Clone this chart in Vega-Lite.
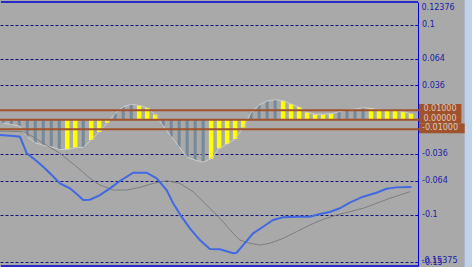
{
  "$schema": "https://vega.github.io/schema/vega-lite/v6.json",
  "width": 418,
  "height": 264,
  "autosize": {"type": "none"},
  "padding": {"left": 0, "top": 2, "right": 54, "bottom": 1},
  "background": "#a9a9a9",
  "config": {"view": {"stroke": null, "fill": "#a9a9a9"}},
  "datasets": {
    "bars": [
      {"k":0,"v":-0.0035,"c":"g"},{"k":1,"v":-0.0050,"c":"g"},{"k":2,"v":-0.0066,"c":"g"},{"k":3,"v":-0.0179,"c":"g"},
      {"k":4,"v":-0.0242,"c":"g"},{"k":5,"v":-0.0269,"c":"g"},{"k":6,"v":-0.0284,"c":"g"},{"k":7,"v":-0.0313,"c":"g"},
      {"k":8,"v":-0.0311,"c":"y"},{"k":9,"v":-0.0294,"c":"y"},{"k":10,"v":-0.0290,"c":"g"},{"k":11,"v":-0.0213,"c":"y"},
      {"k":12,"v":-0.0129,"c":"y"},{"k":13,"v":-0.0032,"c":"y"},{"k":14,"v":0.0067,"c":"g"},{"k":15,"v":0.0134,"c":"g"},
      {"k":16,"v":0.0162,"c":"g"},{"k":17,"v":0.0149,"c":"y"},{"k":18,"v":0.0125,"c":"y"},{"k":19,"v":0.0055,"c":"y"},
      {"k":20,"v":-0.0066,"c":"g"},{"k":21,"v":-0.0179,"c":"g"},{"k":22,"v":-0.0284,"c":"g"},{"k":23,"v":-0.0395,"c":"g"},
      {"k":24,"v":-0.0424,"c":"g"},{"k":25,"v":-0.0445,"c":"g"},{"k":26,"v":-0.0410,"c":"y"},{"k":27,"v":-0.0301,"c":"y"},
      {"k":28,"v":-0.0255,"c":"y"},{"k":29,"v":-0.0203,"c":"y"},{"k":30,"v":-0.0082,"c":"y"},{"k":31,"v":0.0078,"c":"g"},
      {"k":32,"v":0.0155,"c":"g"},{"k":33,"v":0.0197,"c":"g"},{"k":34,"v":0.0210,"c":"g"},{"k":35,"v":0.0200,"c":"y"},
      {"k":36,"v":0.0165,"c":"y"},{"k":37,"v":0.0134,"c":"y"},{"k":38,"v":0.0078,"c":"y"},{"k":39,"v":0.0057,"c":"y"},
      {"k":40,"v":0.0057,"c":"y"},{"k":41,"v":0.0063,"c":"y"},{"k":42,"v":0.0084,"c":"g"},{"k":43,"v":0.0102,"c":"g"},
      {"k":44,"v":0.0112,"c":"g"},{"k":45,"v":0.0126,"c":"g"},{"k":46,"v":0.0120,"c":"y"},{"k":47,"v":0.0105,"c":"y"},
      {"k":48,"v":0.0102,"c":"y"},{"k":49,"v":0.0099,"c":"y"},{"k":50,"v":0.0084,"c":"y"},{"k":51,"v":0.0063,"c":"y"}
    ],
    "blue": [
      {"t":-0.41,"v":-0.0161},{"t":1.25,"v":-0.0171},{"t":2.09,"v":-0.0179},{"t":2.93,"v":-0.0353},{"t":3.75,"v":-0.0406},
      {"t":5.0,"v":-0.0494},{"t":5.84,"v":-0.0563},{"t":7.09,"v":-0.0669},{"t":8.34,"v":-0.0721},{"t":9.18,"v":-0.0781},
      {"t":10.0,"v":-0.0844},{"t":10.84,"v":-0.0841},{"t":12.09,"v":-0.0792},{"t":13.34,"v":-0.0721},{"t":14.59,"v":-0.0644},
      {"t":16.25,"v":-0.0557},{"t":17.93,"v":-0.0557},{"t":19.18,"v":-0.0616},{"t":20.43,"v":-0.0739},{"t":21.25,"v":-0.0879},
      {"t":22.3,"v":-0.1019},{"t":23.34,"v":-0.1142},{"t":24.59,"v":-0.1265},{"t":25.84,"v":-0.1359},{"t":27.09,"v":-0.1362},
      {"t":28.75,"v":-0.1404},{"t":29.18,"v":-0.1398},{"t":30.0,"v":-0.1317},{"t":31.25,"v":-0.1194},{"t":32.5,"v":-0.1125},
      {"t":33.75,"v":-0.1054},{"t":35.0,"v":-0.1026},{"t":36.68,"v":-0.1020},{"t":38.34,"v":-0.1020},{"t":39.59,"v":-0.0991},
      {"t":40.84,"v":-0.0970},{"t":42.09,"v":-0.0931},{"t":43.34,"v":-0.0872},{"t":45.0,"v":-0.0809},{"t":46.68,"v":-0.0767},
      {"t":47.93,"v":-0.0725},{"t":49.18,"v":-0.0711},{"t":51.05,"v":-0.0707}
    ],
    "gray": [
      {"t":-0.41,"v":-0.0119},{"t":2.5,"v":-0.0126},{"t":3.75,"v":-0.0179},{"t":5.0,"v":-0.0248},{"t":7.09,"v":-0.0353},
      {"t":9.18,"v":-0.0494},{"t":10.84,"v":-0.0616},{"t":12.09,"v":-0.0686},{"t":13.75,"v":-0.0739},{"t":15.43,"v":-0.0739},
      {"t":17.09,"v":-0.0711},{"t":18.75,"v":-0.0669},{"t":20.43,"v":-0.0641},{"t":22.09,"v":-0.0669},{"t":23.75,"v":-0.0757},
      {"t":25.43,"v":-0.0897},{"t":27.09,"v":-0.1036},{"t":28.75,"v":-0.1194},{"t":29.59,"v":-0.1265},{"t":30.84,"v":-0.1299},
      {"t":32.09,"v":-0.1317},{"t":33.34,"v":-0.1299},{"t":35.0,"v":-0.1247},{"t":36.68,"v":-0.1177},{"t":38.34,"v":-0.1107},
      {"t":40.0,"v":-0.1047},{"t":41.68,"v":-0.1002},{"t":43.34,"v":-0.0967},{"t":45.0,"v":-0.0931},{"t":46.68,"v":-0.0879},
      {"t":48.34,"v":-0.0826},{"t":49.59,"v":-0.0792},{"t":50.84,"v":-0.0757}
    ],
    "levels": [
      {"level":0.01,"label":"0.01000"},{"level":0,"label":"0.00000"},{"level":-0.01,"label":"-0.01000"}
    ],
    "ends": [
      {"level":0.12376,"label":"0.12376","pos":"top"},{"level":-0.15375,"label":"-0.15375","pos":"bottom"}
    ],
    "one": [{}]
  },
  "layer": [
    {
      "data": {"name": "one"},
      "mark": {"type": "rect", "color": "#bcd3ea"},
      "encoding": {
        "x": {"datum": 57.71, "type": "quantitative", "scale": {"domain": [-0.4125, 51.875], "nice": false, "zero": false, "padding": 0}, "axis": null},
        "x2": {"datum": 60},
        "y": {"datum": 0.14, "type": "quantitative",
          "scale": {"domain": [-0.15375, 0.12376], "nice": false, "zero": false},
          "axis": {
            "orient": "right",
            "values": [0.1, 0.064, 0.036, -0.036, -0.064, -0.1, -0.15],
            "labelExpr": "datum.value",
            "title": null,
            "domainColor": "#0000d0",
            "domainWidth": 1,
            "tickColor": "#0000d0",
            "tickSize": -3,
            "labelPadding": 6.5,
            "labelColor": "#1c1ca8",
            "labelFont": "DejaVu Sans",
            "labelFontSize": 8,
            "labelAlign": "left",
            "labelBaseline": "middle",
            "labelOverlap": false,
            "labelFlush": false,
            "grid": true,
            "gridColor": "#14147a",
            "gridDash": [3, 2],
            "gridWidth": 1,
            "gridOpacity": 1
          }
        },
        "y2": {"datum": -0.17}
      }
    },
    {
      "data": {"name": "bars"},
      "transform": [{"filter": "datum.c === 'g'"}],
      "mark": {"type": "bar", "color": "#778899", "size": 3},
      "encoding": {
        "x": {"field": "k", "type": "quantitative"},
        "y": {"field": "v", "type": "quantitative"},
        "y2": {"datum": 0}
      }
    },
    {
      "data": {"name": "bars"},
      "transform": [{"filter": "datum.c === 'y'"}],
      "mark": {"type": "bar", "color": "#ffff00", "size": 4.5},
      "encoding": {
        "x": {"field": "k", "type": "quantitative"},
        "y": {"field": "v", "type": "quantitative"},
        "y2": {"datum": 0}
      }
    },
    {
      "data": {"name": "bars"},
      "mark": {"type": "line", "color": "#cdcdcd", "strokeWidth": 1},
      "encoding": {
        "x": {"field": "k", "type": "quantitative"},
        "y": {"field": "v", "type": "quantitative"}
      }
    },
    {
      "data": {"name": "levels"},
      "mark": {"type": "rule", "color": "#a0522d", "strokeWidth": 2},
      "encoding": {
        "x": {"datum": -0.4125, "type": "quantitative"},
        "x2": {"datum": 52.1},
        "y": {"field": "level", "type": "quantitative"}
      }
    },
    {
      "data": {"name": "gray"},
      "mark": {"type": "line", "color": "#7e7e7e", "strokeWidth": 1},
      "encoding": {
        "x": {"field": "t", "type": "quantitative"},
        "y": {"field": "v", "type": "quantitative"}
      }
    },
    {
      "data": {"name": "blue"},
      "mark": {"type": "line", "color": "#4169e1", "strokeWidth": 2},
      "encoding": {
        "x": {"field": "t", "type": "quantitative"},
        "y": {"field": "v", "type": "quantitative"}
      }
    },
    {
      "data": {"name": "one"},
      "mark": {"type": "rect", "color": "#a0522d"},
      "encoding": {
        "x": {"datum": 52.0, "type": "quantitative"},
        "x2": {"datum": 57.3},
        "y": {"datum": 0.0165, "type": "quantitative"},
        "y2": {"datum": -0.004}
      }
    },
    {
      "data": {"name": "one"},
      "mark": {"type": "rect", "color": "#a0522d"},
      "encoding": {
        "x": {"datum": 52.0, "type": "quantitative"},
        "x2": {"datum": 57.71},
        "y": {"datum": -0.004, "type": "quantitative"},
        "y2": {"datum": -0.0143}
      }
    },
    {
      "data": {"name": "levels"},
      "mark": {"type": "text", "color": "#dcc8bc", "font": "DejaVu Sans", "fontSize": 8, "align": "center", "baseline": "middle", "dx": 22, "dy": -1},
      "encoding": {
        "x": {"datum": 51.875, "type": "quantitative"},
        "y": {"field": "level", "type": "quantitative"},
        "text": {"field": "label"}
      }
    },
    {
      "data": {"name": "ends"},
      "transform": [{"filter": "datum.pos === 'top'"}],
      "mark": {"type": "text", "color": "#1c1ca8", "font": "DejaVu Sans", "fontSize": 8, "align": "left", "baseline": "top", "dx": 3.5, "dy": 2},
      "encoding": {
        "x": {"datum": 51.875, "type": "quantitative"},
        "y": {"field": "level", "type": "quantitative"},
        "text": {"field": "label"}
      }
    },
    {
      "data": {"name": "ends"},
      "transform": [{"filter": "datum.pos === 'bottom'"}],
      "mark": {"type": "text", "color": "#1c1ca8", "font": "DejaVu Sans", "fontSize": 8, "align": "left", "baseline": "bottom", "dx": 3.5, "dy": -1},
      "encoding": {
        "x": {"datum": 51.875, "type": "quantitative"},
        "y": {"field": "level", "type": "quantitative"},
        "text": {"field": "label"}
      }
    },
    {
      "data": {"name": "one"},
      "mark": {"type": "rule", "color": "#0000d0", "strokeWidth": 1.5},
      "encoding": {
        "x": {"datum": -0.3, "type": "quantitative"},
        "x2": {"datum": 51.875},
        "y": {"datum": 0.12376, "type": "quantitative"}
      }
    },
    {
      "data": {"name": "one"},
      "mark": {"type": "rule", "color": "#0000d0", "strokeWidth": 1.5},
      "encoding": {
        "x": {"datum": -0.3, "type": "quantitative"},
        "x2": {"datum": 51.875},
        "y": {"datum": -0.15375, "type": "quantitative"}
      }
    }
  ]
}
